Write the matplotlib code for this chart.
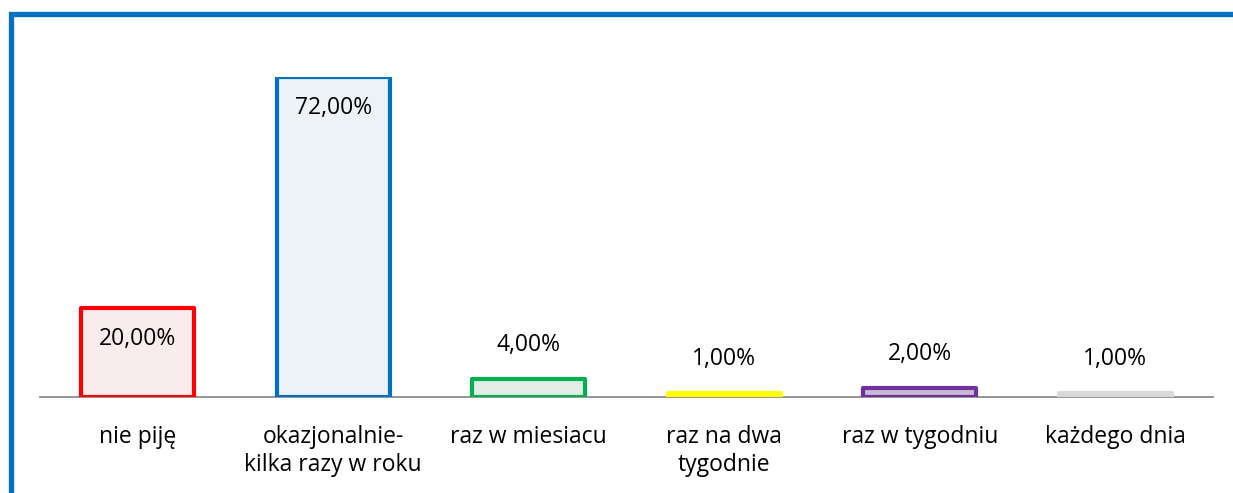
import matplotlib.pyplot as plt
from matplotlib.patches import Rectangle

categories = ["nie piję", "okazjonalnie-\nkilka razy w roku", "raz w miesiacu",
              "raz na dwa\ntygodnie", "raz w tygodniu", "każdego dnia"]
values = [20, 72, 4, 1, 2, 1]
labels = ["20,00%", "72,00%", "4,00%", "1,00%", "2,00%", "1,00%"]
edge_colors = ["#FF0000", "#0070C0", "#00B050", "#FFFF00", "#7030A0", "#D9D9D9"]
fill_colors = ["#F8ECEC", "#EDF2F7", "#E3ECE6", "#F5F5C0", "#C8BCD3", "#D9D9D9"]

plt.rcParams['font.family'] = ['Open Sans', 'DejaVu Sans']

fig = plt.figure(figsize=(12.33, 4.93), dpi=100)
W, H = 1233, 493
ax = fig.add_axes([40 / W, 1 - 397 / H, (1213 - 40) / W, (397 - 77) / H])

x = list(range(len(categories)))
ax.bar(x, values, width=0.58, color=fill_colors, edgecolor=edge_colors,
       linewidth=3, joinstyle="round", zorder=3)

for xi, v, lab in zip(x, values, labels):
    if v > 10:
        ax.annotate(lab, (xi, v), xytext=(0, -31), textcoords="offset pixels",
                    ha="center", va="center", fontsize=16.5, color="#000000")
    else:
        ax.annotate(lab, (xi, v), xytext=(0, 34), textcoords="offset pixels",
                    ha="center", va="center", fontsize=16.5, color="#000000")

ax.set_xlim(-0.5, len(categories) - 0.5)
ax.set_ylim(0, 72)
ax.set_yticks([])
ax.set_xticks(x)
ax.set_xticklabels(categories, fontsize=16.5, linespacing=1.25)
ax.tick_params(axis="x", length=0, pad=20)
for side in ["top", "right", "left"]:
    ax.spines[side].set_visible(False)
ax.spines["bottom"].set_color("#8C8C8C")
ax.spines["bottom"].set_linewidth(1.3)
ax.patch.set_alpha(0)

# blue frame around chart area (cut off at right and bottom)
frame = Rectangle((10.5 / W, -0.1), 1.2, 1 - 14 / H + 0.1,
                  transform=fig.transFigure, fill=False,
                  edgecolor="#0070C0", linewidth=3.8, clip_on=False)
fig.patches.append(frame)

fig.savefig("out.png", dpi=100)
